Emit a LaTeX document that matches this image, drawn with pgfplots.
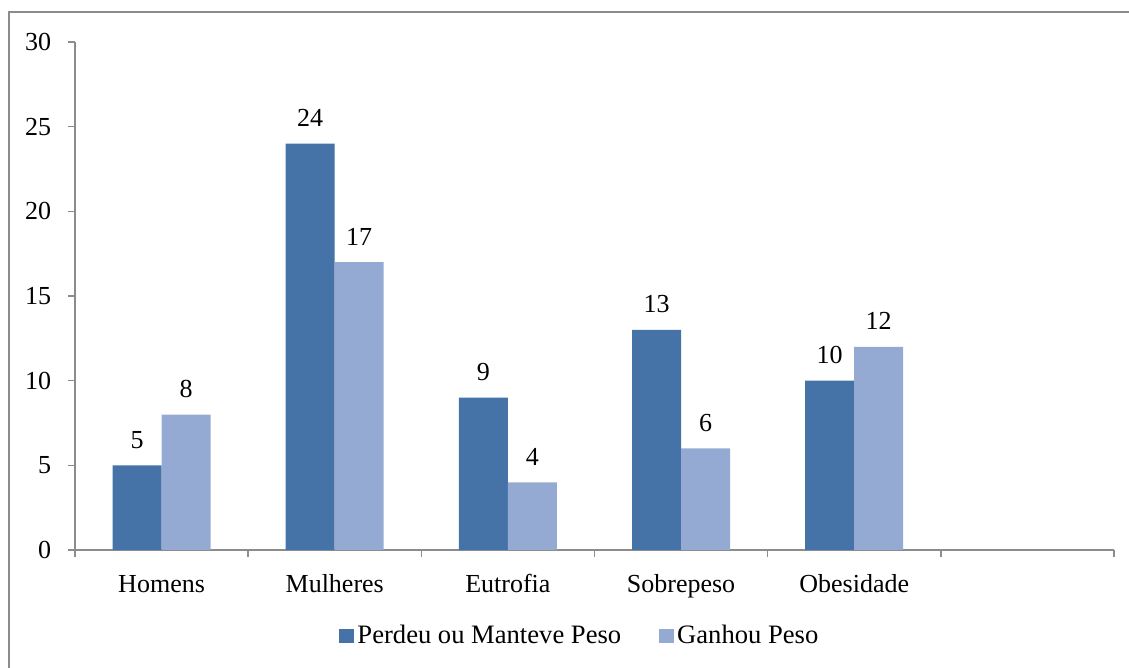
\documentclass[border=0pt]{standalone}
\usepackage{pgfplots}
\pgfplotsset{compat=1.18}
\usepackage{fontspec}
\setmainfont{Liberation Serif}
\definecolor{barDark}{HTML}{4572A7}
\definecolor{barLight}{HTML}{95AAD2}
\definecolor{axisGray}{HTML}{8C8C8C}
\begin{document}
\fontsize{26pt}{30pt}\selectfont
\begin{tikzpicture}[x=1pt,y=1pt]
\useasboundingbox (0,0) rectangle (1129,668);
% outer frame
\draw[axisGray,line width=2pt] (9,-20) -- (9,656) -- (1140,656);
\begin{axis}[
  at={(75pt,118pt)}, anchor=south west,
  scale only axis, width=1039pt, height=508pt,
  xmin=-0.5, xmax=5.5, ymin=0, ymax=30,
  ytick={0,5,...,30},
  xtick={0,1,2,3,4},
  xticklabels={Homens,Mulheres,Eutrofia,Sobrepeso,Obesidade},
  minor xtick={-0.5,0.5,...,5.5},
  axis x line=bottom, axis y line=left,
  axis line style={axisGray,line width=1.5pt,-},
  tick align=outside,
  major tick length=7pt, minor tick length=7pt,
  major x tick style={draw=none},
  every tick/.style={axisGray,line width=1.5pt},
  minor tick style={axisGray,line width=1.5pt},
  y tick label style={xshift=-8pt},
  x tick label style={yshift=-8pt, text height=0.72em, text depth=0.22em},
  tick label style={font=\fontsize{26pt}{30pt}\selectfont},
  /pgf/number format/assume math mode=true,
  ybar=0pt, bar width=49pt,
  nodes near coords,
  every node near coord/.append style={font=\fontsize{26pt}{30pt}\selectfont, yshift=8pt},
  legend columns=2,
  legend style={at={(0.486,-0.169)}, anchor=center, draw=none, fill=none,
    font=\fontsize{26.6pt}{30pt}\selectfont,
    /tikz/every odd column/.append style={column sep=1pt},
    /tikz/every even column/.append style={column sep=36pt}},
  legend image code/.code={\fill[#1] (0pt,-7pt) rectangle (15pt,7pt);},
  clip=false,
]
\addplot[fill=barDark, draw=none] coordinates {(0,5) (1,24) (2,9) (3,13) (4,10)};
\addplot[fill=barLight, draw=none] coordinates {(0,8) (1,17) (2,4) (3,6) (4,12)};
\legend{Perdeu ou Manteve Peso, Ganhou Peso}
\end{axis}
\end{tikzpicture}
\end{document}
